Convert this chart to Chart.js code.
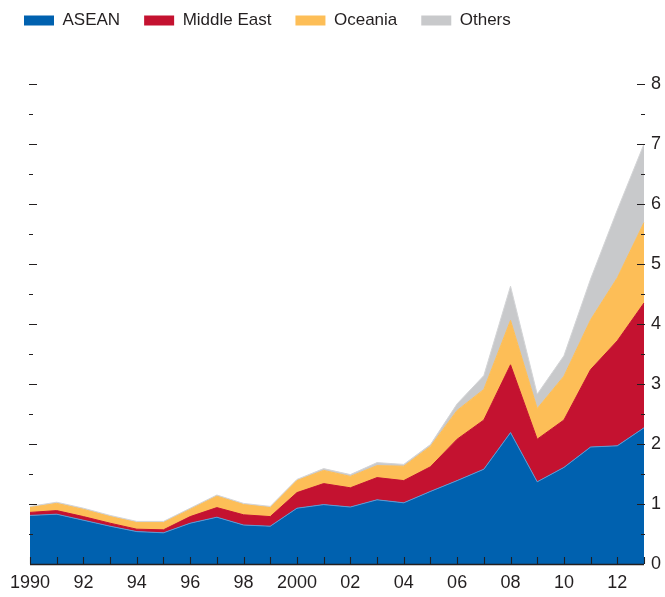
<!DOCTYPE html>
<html>
<head>
<meta charset="utf-8">
<script src="https://cdn.jsdelivr.net/npm/chart.js@4/dist/chart.umd.min.js"></script>
<style>
  html, body { margin: 0; padding: 0; background: #fff; }
  #chart { display: block; }
</style>
</head>
<body>
<canvas id="chart" width="665" height="597"></canvas>
<script>
const years = ['1990','1991','1992','1993','1994','1995','1996','1997','1998','1999','2000','2001',
               '2002','2003','2004','2005','2006','2007','2008','2009','2010','2011','2012','2013'];
const xTickLabels = ['1990','','92','','94','','96','','98','','2000','',
                     '02','','04','','06','','08','','10','','12',''];

// values (stacked layers, not cumulative)
const asean = [0.81, 0.83, 0.73, 0.63, 0.54, 0.52, 0.68, 0.78, 0.65, 0.63, 0.93, 0.99,
               0.95, 1.07, 1.02, 1.21, 1.39, 1.58, 2.19, 1.37, 1.61, 1.95, 1.97, 2.27];
const middleEast = [0.05, 0.06, 0.06, 0.05, 0.04, 0.05, 0.11, 0.16, 0.17, 0.16, 0.26, 0.35,
                    0.32, 0.37, 0.37, 0.41, 0.69, 0.82, 1.13, 0.71, 0.79, 1.29, 1.75, 2.08];
const oceania = [0.08, 0.12, 0.12, 0.11, 0.11, 0.12, 0.12, 0.19, 0.17, 0.15, 0.20, 0.22,
                 0.19, 0.20, 0.24, 0.34, 0.48, 0.51, 0.74, 0.51, 0.73, 0.83, 1.05, 1.34];
const others = [0.02, 0.02, 0.02, 0.02, 0.02, 0.02, 0.02, 0.02, 0.02, 0.02, 0.02, 0.03,
                0.03, 0.05, 0.03, 0.03, 0.11, 0.23, 0.57, 0.24, 0.34, 0.68, 1.13, 1.31];

const FONT = "'Liberation Sans Narrow', 'Arial Narrow', 'Liberation Sans', sans-serif";
const INK = '#231f20';

// tick marks drawn inside the plot, like the original
const innerTicks = {
    id: 'innerTicks',
    afterDatasetsDraw(chart) {
        const { ctx, chartArea, scales } = chart;
        const x = scales.x, y = scales.y;
        ctx.save();
        ctx.strokeStyle = INK;
        ctx.lineWidth = 1.3;
        ctx.beginPath();
        ctx.moveTo(chartArea.left, chartArea.bottom + 0.5);
        ctx.lineTo(chartArea.right, chartArea.bottom + 0.5);
        ctx.stroke();

        ctx.lineWidth = 1.1;
        ctx.beginPath();
        x.ticks.forEach((t, i) => {
            const px = Math.round(x.getPixelForTick(i)) + 0.5;
            ctx.moveTo(px, chartArea.bottom);
            ctx.lineTo(px, chartArea.bottom - 7);
        });
        y.ticks.forEach(t => {
            if (t.value === 0) return;
            const py = Math.round(y.getPixelForValue(t.value)) + 0.5;
            const len = t.value % 1 === 0 ? 8 : 4;
            ctx.moveTo(chartArea.left - 1, py);
            ctx.lineTo(chartArea.left - 1 + len, py);
            ctx.moveTo(chartArea.right + 1, py);
            ctx.lineTo(chartArea.right + 1 - len, py);
        });
        ctx.stroke();
        ctx.restore();
    }
};

// legend needs a tall block so the plot starts lower, and sits near the top
const legendSpace = {
    id: 'legendSpace',
    beforeInit(chart) {
        const fit = chart.legend.fit;
        chart.legend.fit = function () {
            fit.call(this);
            this.height = 84;
        };
    },
    afterLayout(chart) {
        chart.legend.top -= 12;
    }
};

const ctx = document.getElementById('chart').getContext('2d');
new Chart(ctx, {
    type: 'line',
    data: {
        labels: years,
        datasets: [
            { label: 'ASEAN', data: asean, backgroundColor: '#0061af', borderColor: '#5c9ad3', borderWidth: 1, fill: 'origin' },
            { label: 'Middle East', data: middleEast, backgroundColor: '#c41230', borderColor: '#c41230', borderWidth: 1, fill: '-1' },
            { label: 'Oceania', data: oceania, backgroundColor: '#fdbe57', borderColor: '#fdbe57', borderWidth: 1, fill: '-1' },
            { label: 'Others', data: others, backgroundColor: '#c8c9cb', borderColor: '#d4d5d7', borderWidth: 1, fill: '-1' }
        ]
    },
    options: {
        responsive: false,
        animation: false,
        elements: { point: { radius: 0 }, line: { tension: 0 } },
        layout: { padding: 0 },
        plugins: {
            tooltip: { enabled: false },
            legend: {
                position: 'top',
                align: 'start',
                labels: {
                    boxWidth: 30,
                    boxHeight: 10,
                    padding: 24,
                    color: INK,
                    font: { family: FONT, size: 17 },
                    generateLabels(chart) {
                        return chart.data.datasets.map((ds, i) => ({
                            text: ds.label,
                            fillStyle: ds.backgroundColor,
                            strokeStyle: ds.backgroundColor,
                            lineWidth: 0,
                            fontColor: INK,
                            datasetIndex: i
                        }));
                    }
                }
            }
        },
        scales: {
            x: {
                offset: false,
                grid: { display: false, drawTicks: false },
                border: { display: false },
                afterFit: s => { s.height = 33; },
                ticks: {
                    autoSkip: false,
                    maxRotation: 0,
                    padding: 8,
                    color: INK,
                    font: { family: FONT, size: 18 },
                    callback: (v, i) => xTickLabels[i]
                }
            },
            y: {
                position: 'right',
                stacked: true,
                min: 0,
                max: 8,
                grid: { display: false, drawTicks: false },
                border: { display: false },
                afterFit: s => { s.width = 21; },
                ticks: {
                    stepSize: 0.5,
                    padding: 7,
                    color: INK,
                    font: { family: FONT, size: 18 },
                    callback: v => (v % 1 === 0 ? String(v) : '')
                }
            },
            yl: {
                position: 'left',
                grid: { display: false, drawTicks: false },
                border: { display: false },
                ticks: { display: false },
                afterFit: s => { s.width = 30; }
            }
        }
    },
    plugins: [innerTicks, legendSpace]
});
</script>
</body>
</html>
